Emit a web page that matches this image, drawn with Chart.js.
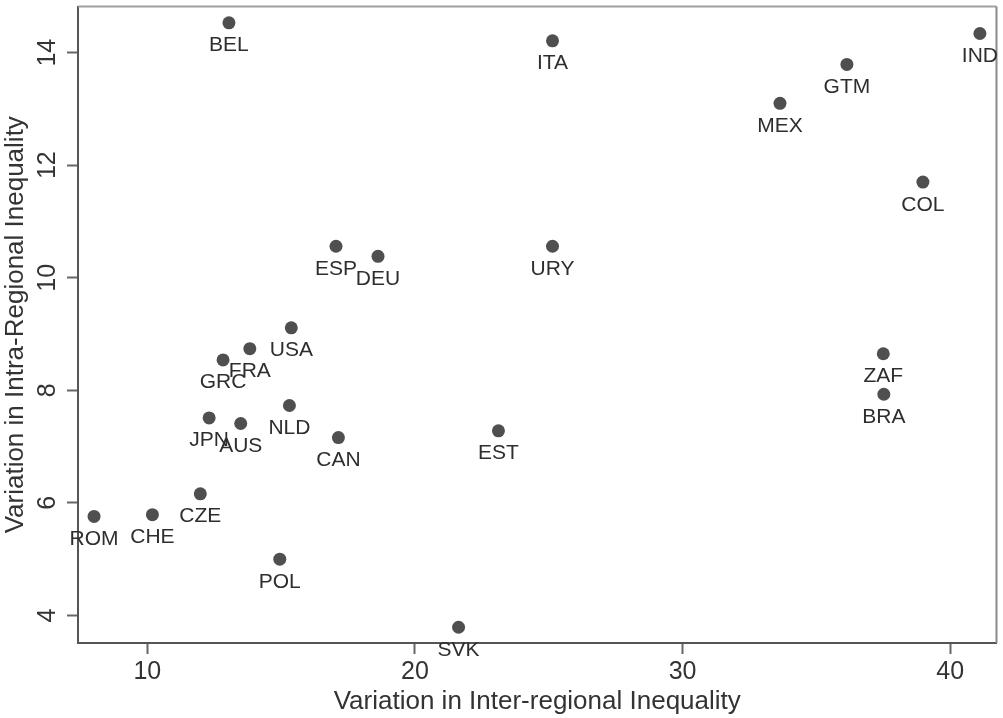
<!DOCTYPE html>
<html>
<head>
<meta charset="utf-8">
<script src="https://cdn.jsdelivr.net/npm/chart.js@4"></script>
<style>
  html, body { margin: 0; padding: 0; background: #fff; }
  #wrap { width: 1003px; height: 718px; position: relative; }
</style>
</head>
<body>
<div id="wrap"><canvas id="c" width="1003" height="718"></canvas></div>
<script>
// Country codes and their inequality measures
const countries = ['BEL','ITA','IND','GTM','MEX','COL','ESP','DEU','URY','USA','FRA','GRC',
                   'ZAF','BRA','NLD','JPN','AUS','CAN','EST','CZE','CHE','ROM','POL','SVK'];
const interRegional = [13.05, 25.14, 41.11, 36.14, 33.64, 38.98, 17.05, 18.62, 25.14, 15.38, 13.83, 12.83,
                       37.50, 37.52, 15.31, 12.31, 13.49, 17.14, 23.12, 11.98, 10.19, 8.01, 14.95, 21.63];
const intraRegional = [14.53, 14.21, 14.34, 13.79, 13.10, 11.70, 10.56, 10.38, 10.56, 9.11, 8.74, 8.54,
                       8.65, 7.93, 7.73, 7.51, 7.41, 7.16, 7.28, 6.16, 5.79, 5.76, 5.00, 3.79];
const xTicks = [10, 20, 30, 40];
const yTicks = [4, 6, 8, 10, 12, 14];

const FONT = '"Liberation Sans", Arial, Helvetica, sans-serif';
Chart.defaults.font.family = FONT;

// Country code written centred below each marker
const pointLabels = {
  id: 'pointLabels',
  afterDatasetsDraw(chart) {
    const ctx = chart.ctx;
    const meta = chart.getDatasetMeta(0);
    ctx.save();
    ctx.font = '21px ' + FONT;
    ctx.fillStyle = '#2e2e2e';
    ctx.textAlign = 'center';
    ctx.textBaseline = 'alphabetic';
    meta.data.forEach((pt, i) => ctx.fillText(countries[i], pt.x, pt.y + 28.5));
    ctx.restore();
  }
};

// Light outline along the top and right of the plot region
const plotFrame = {
  id: 'plotFrame',
  beforeDatasetsDraw(chart) {
    const { ctx, chartArea: a } = chart;
    ctx.save();
    ctx.lineWidth = 2;
    ctx.strokeStyle = '#a0a0a0';
    ctx.beginPath();
    ctx.moveTo(a.left, a.top);
    ctx.lineTo(a.right, a.top);
    ctx.stroke();
    ctx.strokeStyle = '#8a8a8a';
    ctx.beginPath();
    ctx.moveTo(a.right, a.top);
    ctx.lineTo(a.right, a.bottom);
    ctx.stroke();
    ctx.restore();
  }
};

// Fixed axis boxes, without the extra room reserved for edge tick labels
const fitX = s => { s.height = 75; s.paddingLeft = 0; s.paddingRight = 0; };
const fitY = s => { s.width = 78; s.paddingTop = 0; s.paddingBottom = 0; };

new Chart(document.getElementById('c'), {
  type: 'scatter',
  data: {
    datasets: [{
      data: interRegional.map((x, i) => ({ x, y: intraRegional[i] })),
      backgroundColor: '#4f4f4f',
      borderWidth: 0,
      pointRadius: 6.5,
      pointHoverRadius: 6.5,
      clip: false
    }]
  },
  options: {
    responsive: false,
    animation: false,
    devicePixelRatio: 1,
    layout: { padding: { top: 6, right: 1, left: 0, bottom: 0 } },
    plugins: { legend: { display: false }, tooltip: { enabled: false } },
    events: [],
    scales: {
      x: {
        type: 'linear',
        position: 'bottom',
        min: 7.41,
        max: 41.73,
        afterBuildTicks: s => { s.ticks = xTicks.map(v => ({ value: v })); },
        afterFit: fitX,
        grid: { drawOnChartArea: false, drawTicks: true, tickLength: 11, tickColor: '#666', tickWidth: 2 },
        border: { display: true, color: '#555', width: 2 },
        ticks: { font: { size: 25 }, color: '#333', padding: 3, maxRotation: 0, autoSkip: false },
        title: { display: true, text: 'Variation in Inter-regional Inequality',
                 font: { size: 26 }, color: '#333', padding: { top: 0, bottom: 1 } }
      },
      y: {
        type: 'linear',
        position: 'left',
        min: 3.51,
        max: 14.82,
        afterBuildTicks: s => { s.ticks = yTicks.map(v => ({ value: v })); },
        afterFit: fitY,
        grid: { drawOnChartArea: false, drawTicks: true, tickLength: 11, tickColor: '#666', tickWidth: 2 },
        border: { display: true, color: '#555', width: 2 },
        ticks: { font: { size: 25 }, color: '#333', padding: 5, minRotation: 90, maxRotation: 90,
                 crossAlign: 'center', autoSkip: false },
        title: { display: true, text: 'Variation in Intra-Regional Inequality',
                 font: { size: 26 }, color: '#333', padding: { top: 0.5, bottom: 0 } }
      }
    }
  },
  plugins: [plotFrame, pointLabels]
});
</script>
</body>
</html>
